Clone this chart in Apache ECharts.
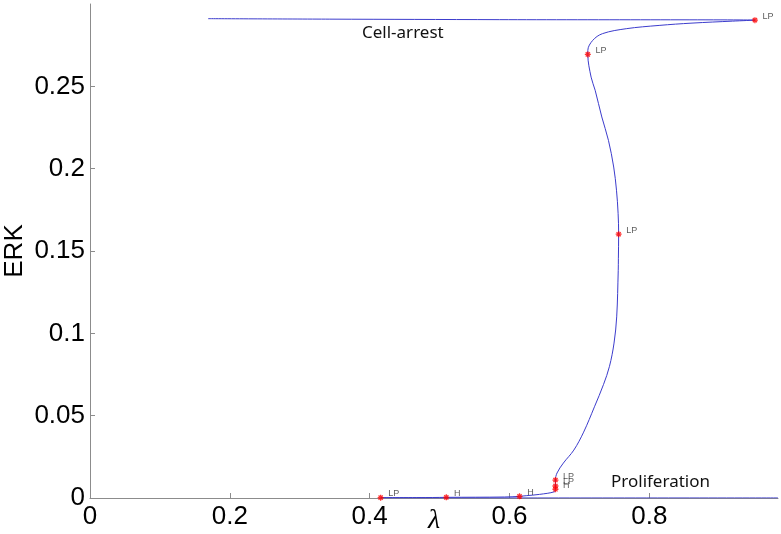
<!DOCTYPE html>
<html>
<head>
<meta charset="utf-8">
<script src="https://cdn.jsdelivr.net/npm/echarts@6/dist/echarts.min.js"></script>
<style>
html,body{margin:0;padding:0;background:#fff;}
#chart{width:781px;height:534px;}
</style>
</head>
<body>
<div id="chart"></div>
<script>
// Bifurcation curve (lambda, ERK) in continuation order
const curveX = [0.169, 0.343, 0.586, 0.951, 0.919, 0.861, 0.814, 0.767, 0.733, 0.719, 0.712, 0.712,
  0.7167, 0.7225, 0.7320, 0.7415, 0.7490, 0.7530, 0.7553, 0.7561, 0.7557, 0.7555, 0.7533, 0.7495,
  0.7430, 0.7345, 0.7215, 0.7060, 0.6920, 0.6770, 0.6680, 0.6657, 0.6657, 0.6657, 0.6643, 0.6429,
  0.6239, 0.6143, 0.593, 0.5096, 0.49, 0.4157, 0.43, 0.60, 0.984];
const curveY = [0.2911, 0.2908, 0.2905, 0.2902, 0.2896, 0.2884, 0.2870, 0.2850, 0.2820, 0.2779, 0.2718, 0.2694,
  0.2556, 0.2476, 0.2314, 0.2172, 0.2010, 0.1869, 0.1729, 0.1602, 0.1456, 0.1383, 0.1100, 0.0941,
  0.0800, 0.0690, 0.0554, 0.0400, 0.0291, 0.0212, 0.0152, 0.0109, 0.0073, 0.0053, 0.0038, 0.0022,
  0.0014, 0.0010, 0.0006, 0.0004, 0.0003, 0.0002, 0.00005, 0.00003, 0.00002];

// Special points (limit points and Hopf points)
const specialX = [0.951, 0.712, 0.7561, 0.6657, 0.6657, 0.6657, 0.6143, 0.5096, 0.4157];
const specialY = [0.2902, 0.2694, 0.1602, 0.0109, 0.0073, 0.0053, 0.0010, 0.0004, 0.0002];
const specialLabels = ['LP', 'LP', 'LP', 'LP', 'LP', 'H', 'H', 'H', 'LP'];

const xTicks = [0, 0.2, 0.4, 0.6, 0.8];
const yTicks = [0, 0.05, 0.1, 0.15, 0.2, 0.25];

const curveData = curveX.map((x, i) => [x, curveY[i]]);
const specialData = specialX.map((x, i) => ({ value: [x, specialY[i]], name: specialLabels[i] }));

const chart = echarts.init(document.getElementById('chart'), null, { renderer: 'canvas' });
const axisGray = '#8c8c8c';
chart.setOption({
  animation: false,
  backgroundColor: '#ffffff',
  grid: { left: 90, right: 3, top: 4, bottom: 36, containLabel: false, outerBoundsMode: 'none' },
  xAxis: {
    type: 'value', min: 0, max: 0.984,
    name: 'λ', nameLocation: 'middle', nameGap: 9, nameMoveOverlap: false,
    nameTextStyle: { fontFamily: 'Liberation Serif', fontStyle: 'italic', fontSize: 28, color: '#000' },
    axisLine: { show: true, onZero: false, lineStyle: { color: axisGray, width: 1 } },
    axisTick: { show: true, inside: true, length: 5, customValues: xTicks, lineStyle: { color: axisGray } },
    axisLabel: { customValues: xTicks, margin: 6, fontFamily: 'Liberation Sans', fontSize: 26, color: '#000',
      formatter: v => String(+v.toFixed(2)) },
    splitLine: { show: false }
  },
  yAxis: {
    type: 'value', min: 0, max: 0.3,
    name: 'ERK', nameLocation: 'middle', nameGap: 62, nameRotate: 90, nameMoveOverlap: false,
    nameTextStyle: { fontFamily: 'Liberation Sans', fontSize: 26, color: '#000' },
    axisLine: { show: true, onZero: false, lineStyle: { color: axisGray, width: 1 } },
    axisTick: { show: true, inside: true, length: 5, customValues: yTicks, lineStyle: { color: axisGray } },
    axisLabel: { customValues: yTicks, margin: 5, fontFamily: 'Liberation Sans', fontSize: 26, color: '#000',
      formatter: v => String(+v.toFixed(2)) },
    splitLine: { show: false }
  },
  series: [
    {
      type: 'line', data: curveData, showSymbol: false, smooth: 0.35,
      lineStyle: { color: '#3c3ccc', width: 1 }, z: 3
    },
    {
      type: 'scatter', data: specialData,
      symbol: 'path://M0,-1L0,1M-1,0L1,0M-0.7,-0.7L0.7,0.7M-0.7,0.7L0.7,-0.7',
      symbolSize: 6,
      itemStyle: { color: 'rgba(0,0,0,0)', borderColor: '#ff0000', borderWidth: 1.3 },
      label: { show: true, position: 'right', distance: 4, offset: [0, -4],
        formatter: p => p.name, fontFamily: 'Liberation Sans', fontSize: 9, color: '#333' },
      z: 4
    }
  ],
  graphic: [
    { type: 'text', left: 362, top: 25, style: { text: 'Cell-arrest', font: '17px "Noto Sans"', fill: '#111' } },
    { type: 'text', left: 611, top: 474, style: { text: 'Proliferation', font: '17px "Noto Sans"', fill: '#111' } }
  ]
});
</script>
</body>
</html>
